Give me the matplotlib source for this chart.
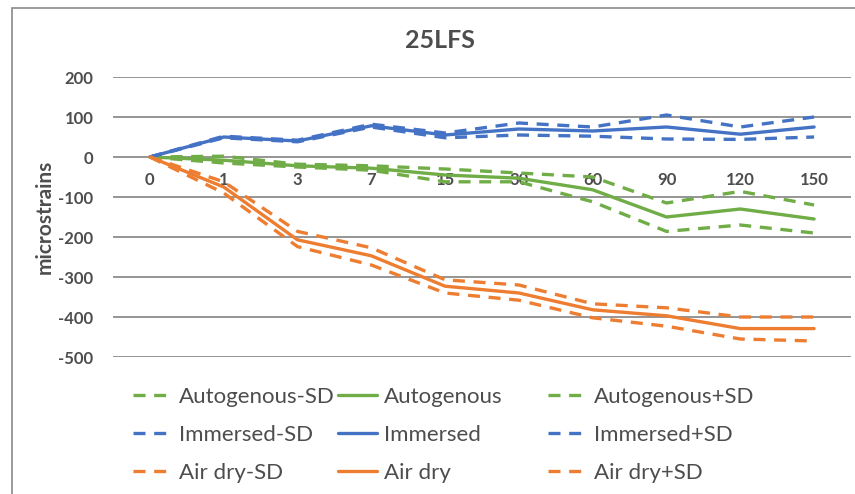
"""Shrinkage curves for 25LFS."""

import matplotlib.pyplot as plt
from matplotlib.patches import Rectangle

days = ["0", "1", "3", "7", "15", "30", "60", "90", "120", "150"]

auto = [0, -8, -22, -28, -45, -53, -82, -150, -130, -155]
auto_plus = [0, 2, -18, -22, -30, -40, -50, -115, -86, -120]
auto_minus = [0, -15, -25, -33, -62, -62, -112, -186, -170, -190]

imm = [0, 50, 40, 78, 55, 70, 65, 75, 57, 75]
imm_plus = [0, 52, 42, 82, 60, 85, 75, 105, 75, 100]
imm_minus = [0, 48, 38, 75, 48, 55, 52, 45, 44, 50]

air = [0, -75, -207, -247, -323, -340, -382, -397, -429, -429]
air_plus = [0, -62, -186, -227, -307, -320, -367, -377, -400, -400]
air_minus = [0, -90, -224, -270, -340, -358, -402, -423, -455, -460]

yticks = [200, 100, 0, -100, -200, -300, -400, -500]

GREEN = "#70AD47"
BLUE = "#4472C4"
ORANGE = "#ED7D31"
TEXT = "#4d4d4d"
FONT = "Lato"

plt.rcParams["font.family"] = [FONT, "DejaVu Sans"]

fig = plt.figure(figsize=(8.55, 4.94), dpi=100)
W, H = 855, 494

# chart border (cropped on right and bottom)
fig.patches.append(Rectangle((12 / W, -0.1), 1.0, 1 - 8 / H + 0.1,
                             transform=fig.transFigure, fill=False,
                             edgecolor="#8a8a8a", linewidth=1.2))

ax = fig.add_axes([113 / W, 1 - 357 / H, (851 - 113) / W, (357 - 77) / H])
x = list(range(len(days)))

series = [
    ("Autogenous-SD", auto_minus, GREEN, "--"),
    ("Autogenous", auto, GREEN, "-"),
    ("Autogenous+SD", auto_plus, GREEN, "--"),
    ("Immersed-SD", imm_minus, BLUE, "--"),
    ("Immersed", imm, BLUE, "-"),
    ("Immersed+SD", imm_plus, BLUE, "--"),
    ("Air dry-SD", air_minus, ORANGE, "--"),
    ("Air dry", air, ORANGE, "-"),
    ("Air dry+SD", air_plus, ORANGE, "--"),
]

handles = []
for label, vals, color, ls in series:
    line, = ax.plot(x, vals, color=color, linewidth=2.4, label=label,
                    solid_capstyle="round", zorder=3)
    if ls == "--":
        line.set_dashes((3.6, 2.6))
    handles.append(line)

for yv in yticks:
    ax.axhline(yv, color="#8c8c8c", linewidth=1.3, zorder=1)

ax.set_xlim(-0.5, len(days) - 0.5)
ax.set_ylim(-500, 200)
ax.set_yticks(yticks)
ax.set_yticklabels([str(v) for v in yticks])
ax.set_xticks(x)
ax.set_xticklabels(days)
for s in ax.spines.values():
    s.set_visible(False)
ax.spines["bottom"].set_position(("data", 0))
ax.tick_params(axis="both", length=0, labelsize=12, labelcolor=TEXT)
ax.tick_params(axis="x", pad=11)
ax.tick_params(axis="y", pad=14)
for t in ax.get_xticklabels() + ax.get_yticklabels():
    t.set_fontweight("bold")

fig.text(45 / W, 1 - 217 / H, "microstrains", rotation=90, ha="center",
         va="center", fontsize=15, fontweight="bold", color=TEXT)
fig.text(440 / W, 1 - 40 / H, "25LFS", ha="center", va="center",
         fontsize=18, fontweight="bold", color=TEXT)

# three legend columns, equal widths like the original
col_x = [133, 338, 548]
for c in range(3):
    hs = handles[c::3]
    leg = fig.legend(handles=hs, labels=[h.get_label() for h in hs],
                     loc="upper left", bbox_to_anchor=(col_x[c] / W, 1 - 387 / H),
                     frameon=False, fontsize=16, handlelength=1.75,
                     handletextpad=0.3, labelspacing=0.8, borderpad=0,
                     borderaxespad=0)
    for t in leg.get_texts():
        t.set_color(TEXT)

plt.savefig("out.png", dpi=100)
plt.close()
